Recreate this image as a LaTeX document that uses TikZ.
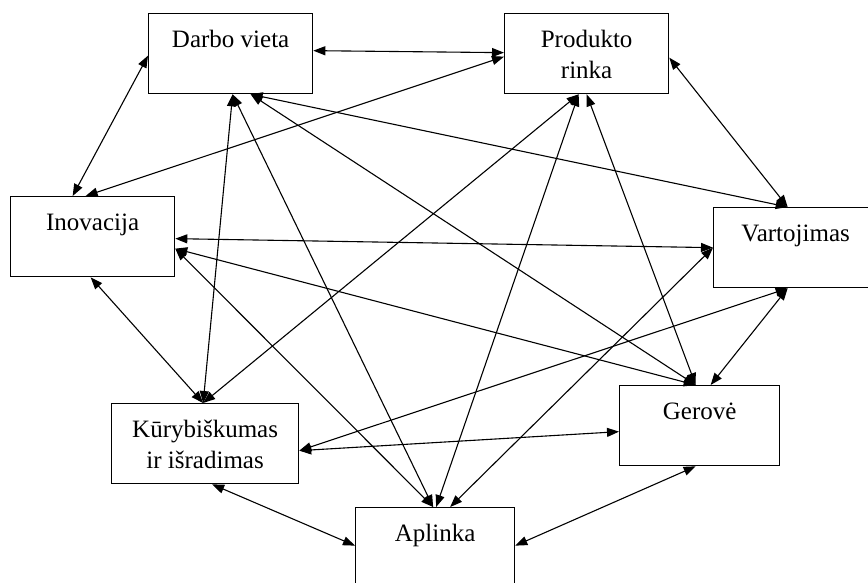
\documentclass[tikz,border=0pt]{standalone}
\usepackage{fontspec}
\setmainfont{Liberation Serif}
\usetikzlibrary{arrows.meta}
\newcommand{\boxtext}[2]{\parbox[t][80pt][t]{#1}{\centering\fontsize{25}{31}\selectfont\rule{0pt}{34pt}#2}}
\tikzset{
  conceptbox/.style={draw, line width=1.3pt, inner sep=0pt, anchor=north west},
  link/.style={line width=1.1pt, {Triangle[length=12pt,width=9pt]}-{Triangle[length=12pt,width=9pt]}}
}
\begin{document}
\begin{tikzpicture}[x=1pt,y=-1pt]
\clip (0,0) rectangle (868,582);
\fill[white] (0,0) rectangle (868,582);
% boxes
\node[conceptbox] (darbo)    at (148,13)  {\boxtext{164pt}{Darbo vieta}};
\node[conceptbox] (produkto) at (504,13)  {\boxtext{164pt}{Produkto\\rinka}};
\node[conceptbox] (inov)     at (10,196)  {\boxtext{164pt}{Inovacija}};
\node[conceptbox] (vart)     at (713,207) {\boxtext{164pt}{Vartojimas}};
\node[conceptbox] (kur)      at (111,403) {\boxtext{187pt}{Kūrybiškumas\\ir išradimas}};
\node[conceptbox] (gerove)   at (619,385) {\boxtext{160pt}{Gerovė}};
\node[conceptbox] (aplinka)  at (355,507) {\boxtext{159pt}{Aplinka}};
% connectors
\draw[link] ([yshift=3]darbo.east) -- ([yshift=1]produkto.west);
\draw[link] ([yshift=-2]darbo.west) -- ([xshift=-20]inov.north);
\draw[link] ([xshift=-7]inov.north) -- ([yshift=-3]produkto.west);
\draw[link] ([yshift=-4]produkto.east) -- ([xshift=-8]vart.north);
\draw[link] ([xshift=20]darbo.south) -- ([xshift=-8]vart.north);
\draw[link] ([yshift=-2]inov.east) -- (vart.west);
\draw[link] ([yshift=-12]inov.east) -- ([xshift=-4]gerove.north);
\draw[link] ([yshift=-12]inov.east) -- ([xshift=-2]aplinka.north);
\draw[link] ([xshift=-2]inov.south) -- ([xshift=-2]kur.north);
\draw[link] ([xshift=2]darbo.south) -- ([xshift=-2]kur.north);
\draw[link] ([xshift=2]darbo.south) -- ([xshift=-2]aplinka.north);
\draw[link] ([xshift=20]darbo.south) -- ([xshift=-4]gerove.north);
\draw[link] ([xshift=-8]produkto.south) -- ([xshift=-2]kur.north);
\draw[link] ([xshift=-8]produkto.south) -- ([xshift=1]aplinka.north);
\draw[link] ([xshift=0]produkto.south) -- ([xshift=-4]gerove.north);
\draw[link] ([xshift=-8]vart.south) -- ([yshift=-7]kur.east);
\draw[link] (vart.west) -- ([xshift=15]aplinka.north);
\draw[link] ([xshift=-8]vart.south) -- ([xshift=11]gerove.north);
\draw[link] ([yshift=-7]kur.east) -- ([yshift=-6]gerove.west);
\draw[link] ([xshift=7]kur.south) -- ([yshift=2]aplinka.west);
\draw[link] ([xshift=-4]gerove.south) -- ([yshift=2]aplinka.east);
\end{tikzpicture}
\end{document}
